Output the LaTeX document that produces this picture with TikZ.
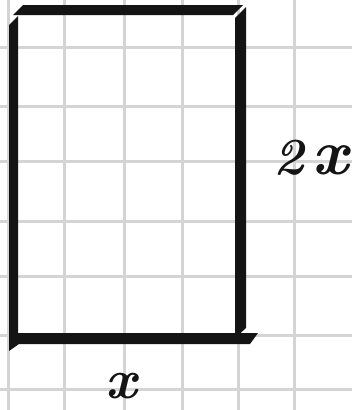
\documentclass[tikz,border=0pt]{standalone}
\begin{document}
\begin{tikzpicture}[x=1pt,y=-1pt,
  gridline/.style={draw=black!17,line width=3pt},
  ink/.style={fill=black!92,draw=none},
  hand/.style={inner sep=0pt,font=\bfseries\itshape,text=black!92}]
\useasboundingbox (0,0) rectangle (352,410);
\fill[white] (0,0) rectangle (352,410);
% grid
\foreach \gx in {8,64,124,182,238,294}
  \draw[gridline] (\gx,0) -- (\gx,410);
\foreach \gy in {47,106,161,221,276,335,389}
  \draw[gridline] (0,\gy) -- (352,\gy);
% rectangle pieces
\fill[ink] (13,15) -- (23,5) -- (243,5) -- (233,15) -- cycle;
\fill[ink] (235,18) -- (246,7) -- (246,328) -- (235,338) -- cycle;
\fill[ink] (9,25) -- (18,16) -- (18,333) -- (258,333) -- (250,344) -- (19,344) -- (9,351) -- cycle;
% labels
\node[hand,anchor=east] (twox) at (349,158) {\fontsize{52}{52}\selectfont 2\,\fontsize{64}{64}\selectfont x};
\node[hand] (xlab) at (121,386) {\fontsize{56}{56}\selectfont x};
\end{tikzpicture}
\end{document}
